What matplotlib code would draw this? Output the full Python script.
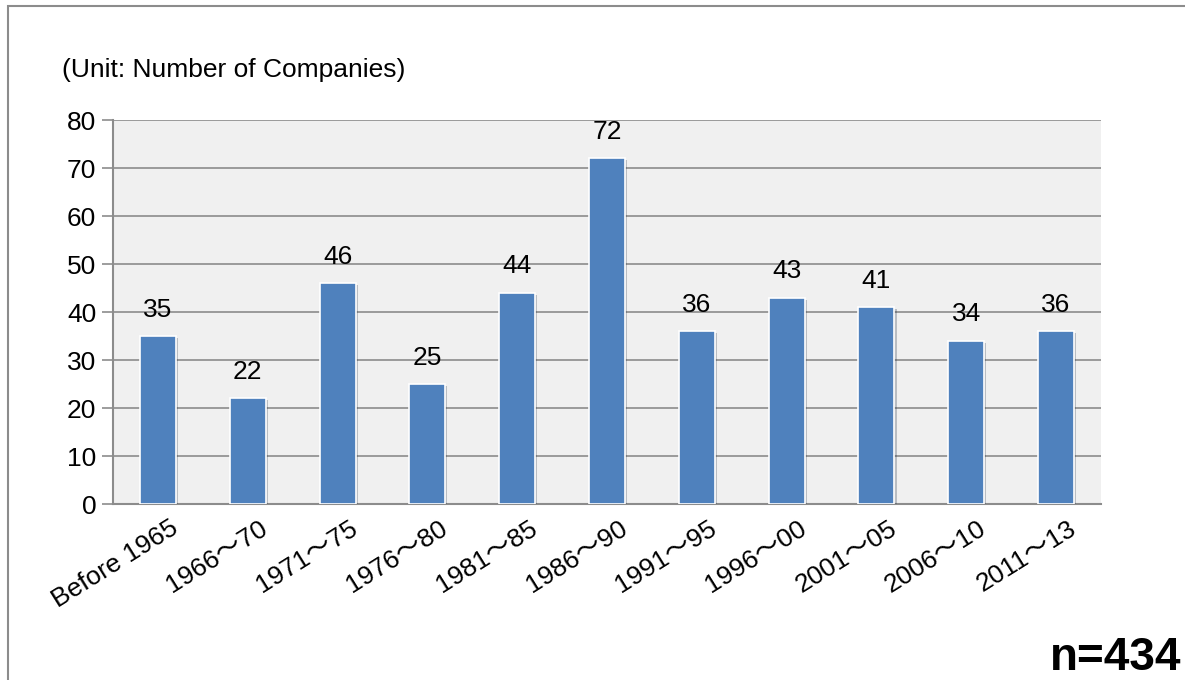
import matplotlib.pyplot as plt
from matplotlib.patches import Rectangle
import matplotlib.patheffects as pe

categories = ["Before 1965", "1966～70", "1971～75", "1976～80", "1981～85",
              "1986～90", "1991～95", "1996～00", "2001～05", "2006～10", "2011～13"]
companies = [35, 22, 46, 25, 44, 72, 36, 43, 41, 34, 36]
y_ticks = [0, 10, 20, 30, 40, 50, 60, 70, 80]
total_label = "n=434"
unit_label = "(Unit: Number of Companies)"

FONT = ["Liberation Sans", "Noto Sans CJK JP", "DejaVu Sans"]
plt.rcParams["font.family"] = FONT

fig = plt.figure(figsize=(11.85, 6.8), dpi=100)
W, H = 1185, 680

# outer frame
fig.add_artist(Rectangle((8 / W, -0.1), 1.2, (680 - 6) / H + 0.1,
                         transform=fig.transFigure, fill=False,
                         edgecolor="#8c8c8c", linewidth=1.5))

ax = fig.add_axes([113 / W, 1 - 504 / H, (1101 - 113) / W, (504 - 120) / H])
ax.set_facecolor("#f0f0f0")

x = list(range(len(categories)))
bars = ax.bar(x, companies, width=0.4, color="#4f81bd", edgecolor="white",
              linewidth=1.2, zorder=3)
for b in bars:
    b.set_path_effects([pe.SimplePatchShadow(offset=(1.5, -1.5), alpha=0.25),
                        pe.Normal()])

for xi, v in zip(x, companies):
    ax.text(xi, v + 3, str(v), ha="center", va="bottom", fontsize=19,
            color="black", zorder=4)

ax.set_xlim(-0.5, len(categories) - 0.5)
ax.set_ylim(0, 80)
ax.set_yticks(y_ticks)
ax.set_yticklabels([str(t) for t in y_ticks], fontsize=19)
ax.yaxis.grid(True, color="#8c8c8c", linewidth=1.2, zorder=0)
ax.set_axisbelow(True)

# rotated category labels end just right of each bar's centre
ax.set_xticks([xi + 0.2 for xi in x])
ax.set_xticklabels(categories, fontsize=19, rotation=32,
                   rotation_mode="anchor", ha="right", va="center")
ax.tick_params(axis="x", length=0, pad=16)
ax.tick_params(axis="y", length=8, width=1.2, color="#8c8c8c", pad=4)

for s in ["top", "right"]:
    ax.spines[s].set_visible(False)
for s in ["left", "bottom"]:
    ax.spines[s].set_color("#8c8c8c")
    ax.spines[s].set_linewidth(1.5)

fig.text(62 / W, 1 - 70 / H, unit_label, fontsize=19, ha="left", va="center")
fig.text(1181 / W, 1 - 658 / H, total_label, fontsize=33, fontweight="bold",
         ha="right", va="center")

fig.savefig("out.png", dpi=100)
